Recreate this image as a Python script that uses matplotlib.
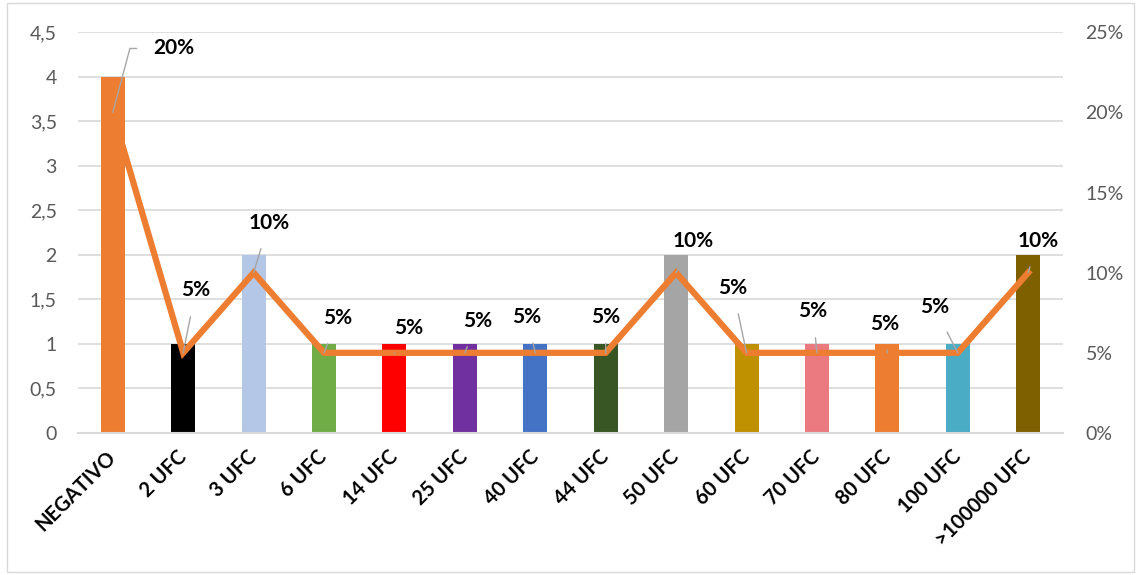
# plot.py
# Bar chart of counts per UFC category with the percentage line on a second axis

import matplotlib
matplotlib.use('Agg')
import matplotlib.pyplot as plt
from matplotlib.patches import Rectangle
from matplotlib.ticker import FuncFormatter

plt.rcParams['font.family'] = ['Lato', 'DejaVu Sans']

# data
categories = ['NEGATIVO', '2 UFC', '3 UFC', '6 UFC', '14 UFC', '25 UFC', '40 UFC',
              '44 UFC', '50 UFC', '60 UFC', '70 UFC', '80 UFC', '100 UFC', '>100000 UFC']
counts = [4, 1, 2, 1, 1, 1, 1, 1, 2, 1, 1, 1, 1, 2]
percents = [0.20, 0.05, 0.10, 0.05, 0.05, 0.05, 0.05, 0.05, 0.10, 0.05, 0.05, 0.05, 0.05, 0.10]
pct_labels = ['20%', '5%', '10%', '5%', '5%', '5%', '5%', '5%', '10%', '5%', '5%', '5%', '5%', '10%']

bar_colors = ['#ED7D31', '#000000', '#B4C7E7', '#70AD47', '#FF0000', '#7030A0', '#4472C4',
              '#375623', '#A5A5A5', '#BF9000', '#EA7A80', '#ED7D31', '#4BACC6', '#7F6000']

# label offsets (points) from each line point, as placed in the original
label_offsets = [(44, 46), (9, 45), (11, 36), (10, 25), (10, 18), (9, 23), (-6, 26),
                 (0, 26), (12, 23), (-10, 47), (-3, 30), (-2, 21), (-17, 33), (7, 23)]

fig = plt.figure(figsize=(11.41, 5.75), dpi=100)
ax = fig.add_axes([0.068, 0.247, 0.864, 0.697])
ax2 = ax.twinx()

x = range(len(categories))

# grid lines behind the bars
ax.set_axisbelow(True)
ax.grid(axis='y', color='#D9D9D9', linewidth=1.2)
ax.bar(x, counts, width=0.34, color=bar_colors, zorder=2)

ax.set_ylim(0, 4.5)
ax.set_yticks([0, 0.5, 1, 1.5, 2, 2.5, 3, 3.5, 4, 4.5])
ax.yaxis.set_major_formatter(FuncFormatter(lambda v, p: ('%g' % v).replace('.', ',')))
ax.set_xlim(-0.5, len(categories) - 0.5)
ax.set_xticks(list(x))
ax.set_xticklabels(categories, rotation=45, ha='right', va='center',
                   rotation_mode='anchor', fontweight='bold', fontsize=14.5)
ax.tick_params(axis='x', length=0, pad=15)
ax.tick_params(axis='y', length=0, pad=15, labelsize=14, labelcolor='#595959')

# percentage line on the right axis
ax2.plot(list(x), percents, color='#ED7D31', linewidth=4.5, solid_joinstyle='miter', zorder=3)
ax2.set_ylim(0, 0.25)
ax2.set_yticks([0, 0.05, 0.10, 0.15, 0.20, 0.25])
ax2.yaxis.set_major_formatter(FuncFormatter(lambda v, p: '%d%%' % round(v * 100)))
ax2.tick_params(axis='y', length=0, pad=16, labelsize=14, labelcolor='#595959')

for i in x:
    conn = 'angle,angleA=0,angleB=75,rad=0' if i == 0 else 'arc3'
    ax2.annotate(pct_labels[i], xy=(i, percents[i]), xytext=label_offsets[i],
                 textcoords='offset points', ha='center', va='center',
                 fontsize=15, fontweight='bold', color='black',
                 arrowprops=dict(arrowstyle='-', color='#A6A6A6', linewidth=1,
                                 shrinkA=10, shrinkB=0, connectionstyle=conn))

for a in (ax, ax2):
    for side in ('top', 'left', 'right'):
        a.spines[side].set_visible(False)
ax.spines['bottom'].set_color('#D9D9D9')
ax.spines['bottom'].set_linewidth(1.5)
ax2.spines['bottom'].set_visible(False)

# light border round the whole chart
fig.patches.append(Rectangle((0.006, 0.005), 0.988, 0.99, transform=fig.transFigure,
                             fill=False, edgecolor='#D9D9D9', linewidth=1))

plt.savefig('out.png', dpi=100)
